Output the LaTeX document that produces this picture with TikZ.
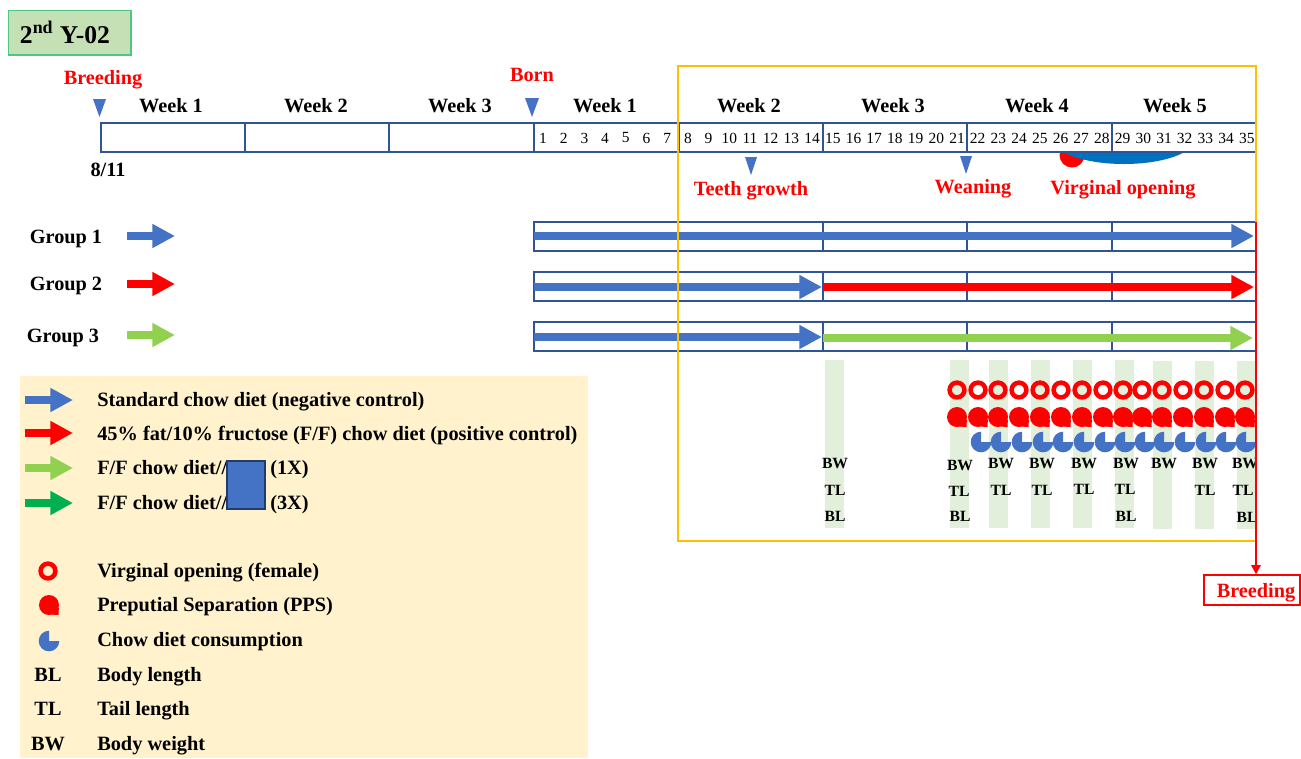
\documentclass[tikz,border=0pt]{standalone}
\usepackage{fontspec}
\setmainfont{Liberation Serif}
\usetikzlibrary{arrows.meta}
\definecolor{chowblue}{HTML}{4472C4}
\definecolor{linkblue}{HTML}{2F5597}
\definecolor{ffred}{HTML}{FF0000}
\definecolor{lowgreen}{HTML}{92D050}
\definecolor{highgreen}{HTML}{00B050}
\definecolor{stripegreen}{HTML}{E2EFDA}
\definecolor{legendfill}{HTML}{FFF2CC}
\definecolor{framegold}{HTML}{FFC000}
\definecolor{titlefill}{HTML}{C5E0B4}
\definecolor{blobblue}{HTML}{0070C0}
\tikzset{
    weektext/.style={font=\fontsize{15.2pt}{17pt}\selectfont\bfseries,text depth=0pt},
    redtext/.style={font=\fontsize{15.2pt}{17pt}\selectfont\bfseries,text=ffred,text depth=0pt},
    daytext/.style={font=\fontsize{11.6pt}{13pt}\selectfont,inner sep=0pt},
    legtext/.style={font=\fontsize{15.25pt}{17pt}\selectfont\bfseries,anchor=base west,inner sep=0pt},
    marktext/.style={font=\fontsize{11.7pt}{13pt}\selectfont\bfseries,inner sep=0pt},
    boxline/.style={draw=linkblue,line width=1.2pt},
    dietarrow/.style={line width=5.6pt,-{Triangle[length=17pt,width=17pt]}},
    downmark/.style={fill=chowblue},
    ringmark/.pic={\draw[ffred,line width=3.4pt] (0,0) circle (7.4);},
    ppsmark/.pic={\fill[ffred] (0,0) circle (10); \fill[ffred] (0,0) -- (9.8,3) -- (9.6,10) -- (3,9.6) -- cycle;},
    piemark/.pic={\fill[chowblue] (0,0) -- (0,-10.3) arc[start angle=-90,end angle=-360,radius=10.3] -- cycle;}
}
\begin{document}
\begin{tikzpicture}[x=0.75pt,y=-0.75pt]
    \useasboundingbox (0,0) rectangle (1301,758);

    % title
    \node[draw=highgreen!70,fill=titlefill,line width=1pt,minimum width=92pt,minimum height=33.5pt] (titlebox) at (69.5,32.5) {};
    \node[font=\fontsize{19.2pt}{21pt}\selectfont\bfseries] (titletext) at (65,32) {2\textsuperscript{nd} Y-02};

    % blobs under the time line
    \begin{scope}
        \clip (1000,152) rectangle (1256,175);
        \fill[ffred] (1072,155) circle (12.5);
        \fill[blobblue] (1124,138) ellipse (72 and 26);
    \end{scope}

    % time line
    \draw[boxline] (101,123) rectangle (1256,152);
    \foreach \x in {245,389,534,679,823,967,1112}
        \draw[boxline] (\x,123) -- (\x,152);
    \foreach \i in {1,...,35}
        \node[daytext] (day\i) at ({543+(\i-1)*20.7},138) {\i};

    \node[weektext] (weekA) at (171,105) {Week 1};
    \node[weektext] (weekB) at (316,105) {Week 2};
    \node[weektext] (weekC) at (460,105) {Week 3};
    \node[weektext] (weekD) at (605,105) {Week 1};
    \node[weektext] (weekE) at (749,105) {Week 2};
    \node[weektext] (weekF) at (893,105) {Week 3};
    \node[weektext] (weekG) at (1037,105) {Week 4};
    \node[weektext] (weekH) at (1175,105) {Week 5};

    \node[redtext] (breedtext) at (103,77) {Breeding};
    \node[redtext] (borntext) at (532,75) {Born};
    \node[redtext] (teethtext) at (751,188) {Teeth growth};
    \node[redtext] (weantext) at (973,186) {Weaning};
    \node[redtext] (opentext) at (1123,187) {Virginal opening};
    \node[weektext] (datetext) at (108,170) {8/11};

    \fill[downmark] (93,99) -- (106,99) -- (99.5,117) -- cycle;
    \fill[downmark] (525,98) -- (539,98) -- (532,117) -- cycle;
    \fill[downmark] (745,157) -- (757,157) -- (751,175) -- cycle;
    \fill[downmark] (960,156) -- (972,156) -- (966,174) -- cycle;

    % stripes
    \fill[stripegreen] (825,360) rectangle (844,528);
    \foreach \x in {950,989,1031,1073,1115}
        \fill[stripegreen] (\x,360) rectangle (\x+19,528);
    \foreach \x in {1153,1195,1237}
        \fill[stripegreen] (\x,361) rectangle (\x+19,529);

    % groups
    \node[weektext] (groupA) at (66,237) {Group 1};
    \node[weektext] (groupB) at (66,284) {Group 2};
    \node[weektext] (groupC) at (63,336) {Group 3};
    \draw[boxline] (534,222) rectangle (1256,251);
    \draw[boxline] (534,272) rectangle (1256,301);
    \draw[boxline] (534,322) rectangle (1256,351);
    \foreach \x in {823,967,1112} {
        \draw[boxline] (\x,222) -- (\x,251);
        \draw[boxline] (\x,272) -- (\x,301);
        \draw[boxline] (\x,322) -- (\x,351);
    }
    \coordinate (keyAs) at (127,236);   \coordinate (keyAe) at (175,236);
    \coordinate (keyBs) at (127,284);   \coordinate (keyBe) at (175,284);
    \coordinate (keyCs) at (127,335);   \coordinate (keyCe) at (175,335);
    \coordinate (rowAs) at (534,236);   \coordinate (rowAe) at (1254,236);
    \coordinate (rowBs) at (534,287);   \coordinate (rowBm) at (822,287);
    \coordinate (rowBn) at (823,287);   \coordinate (rowBe) at (1254,287);
    \coordinate (rowCs) at (534,337);   \coordinate (rowCm) at (822,337);
    \coordinate (rowCn) at (823,338);   \coordinate (rowCe) at (1253,338);
    \draw[dietarrow,chowblue] (keyAs) -- (keyAe);
    \draw[dietarrow,ffred] (keyBs) -- (keyBe);
    \draw[dietarrow,lowgreen] (keyCs) -- (keyCe);
    \draw[dietarrow,chowblue] (rowAs) -- (rowAe);
    \draw[dietarrow,chowblue] (rowBs) -- (rowBm);
    \draw[dietarrow,ffred] (rowBn) -- (rowBe);
    \draw[dietarrow,chowblue] (rowCs) -- (rowCm);
    \draw[dietarrow,lowgreen] (rowCn) -- (rowCe);

    % marks, all cut at the red line
    \begin{scope}
        \clip (800,350) rectangle (1256,545);
        \foreach \x in {957,978,998,1019,1040,1061,1082,1103,1123,1142,1162,1183,1204,1225,1245}
            \pic at (\x,390) {ringmark};
        \foreach \x in {957,978,998,1019,1040,1061,1082,1103,1123,1142,1162,1183,1204,1225,1245}
            \pic at (\x,417) {ppsmark};
        \foreach \x in {981,1001,1022,1043,1063,1084,1105,1125,1145,1164,1185,1206,1226,1246}
            \pic at (\x,442) {piemark};
        \foreach \n/\x/\y in {a/835/463,b/960/465,c/1001/463,d/1042/463,e/1084/463,f/1126/463,g/1164/463,h/1205/463,i/1245/463}
            \node[marktext] (bw\n) at (\x,\y) {BW};
        \foreach \n/\x/\y in {a/835/490,b/959/491,c/1001/490,d/1042/490,e/1084/489,f/1125/489,h/1205/490,i/1243/490}
            \node[marktext] (tl\n) at (\x,\y) {TL};
        \foreach \n/\x/\y in {a/835/516,b/960/516,f/1126/516,i/1247/517}
            \node[marktext] (bl\n) at (\x,\y) {BL};
    \end{scope}

    % frame and breeding line
    \draw[framegold,line width=1.4pt] (678,66) rectangle (1256,541);
    \node[draw=ffred,line width=1.4pt,fill=white,redtext,minimum width=72.5pt,minimum height=22pt,inner sep=0pt] (breedbox) at (1252,590) {\hspace*{6pt}Breeding};
    \coordinate (breedtop) at (1256,222);
    \draw[ffred,line width=1.5pt,-{Triangle[length=7pt,width=7pt]}] (breedtop) -- (breedtop |- breedbox.north);

    % legend
    \fill[legendfill] (20,376) rectangle (588,758);
    \coordinate (legAs) at (25,400);   \coordinate (legAe) at (73,400);
    \coordinate (legBs) at (25,433);   \coordinate (legBe) at (73,433);
    \coordinate (legCs) at (25,468);   \coordinate (legCe) at (73,468);
    \coordinate (legDs) at (25,503);   \coordinate (legDe) at (73,503);
    \draw[dietarrow,chowblue] (legAs) -- (legAe);
    \draw[dietarrow,ffred] (legBs) -- (legBe);
    \draw[dietarrow,lowgreen] (legCs) -- (legCe);
    \draw[dietarrow,highgreen] (legDs) -- (legDe);
    \node[legtext] (legA) at (97,406) {Standard chow diet (negative control)};
    \node[legtext] (legB) at (97,440) {45\% fat/10\% fructose (F/F) chow diet (positive control)};
    \node[legtext] (legC) at (97,474) {F/F chow diet//};
    \node[legtext] (legD) at (97,509) {F/F chow diet//};
    \node[legtext] (legCx) at (270,474) {(1X)};
    \node[legtext] (legDx) at (270,509) {(3X)};
    \draw[fill=chowblue,draw=linkblue!70!black,line width=1.6pt] (227,461) rectangle (265,509);
    \pic at (48,571) {ringmark};
    \pic at (49,605) {ppsmark};
    \pic at (49,641) {piemark};
    \node[legtext] (legE) at (97,577) {Virginal opening (female)};
    \node[legtext] (legF) at (97,611) {Preputial Separation (PPS)};
    \node[legtext] (legG) at (97,646) {Chow diet consumption};
    \node[legtext] (legH) at (97,681) {Body length};
    \node[legtext] (legI) at (97,715) {Tail length};
    \node[legtext] (legJ) at (97,750) {Body weight};
    \node[weektext] (legBL) at (48,675) {BL};
    \node[weektext] (legTL) at (48,709) {TL};
    \node[weektext] (legBW) at (48,744) {BW};
\end{tikzpicture}
\end{document}
